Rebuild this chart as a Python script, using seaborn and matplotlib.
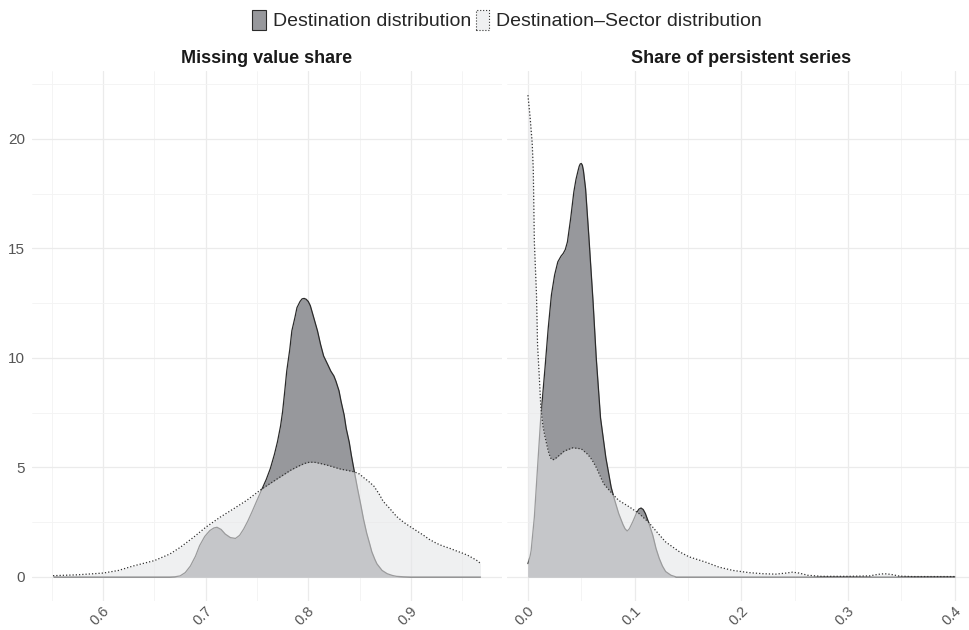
import matplotlib
matplotlib.use('Agg')
import matplotlib.pyplot as plt
import matplotlib.transforms as mtransforms
from matplotlib.patches import Patch
import seaborn as sns

# Density curves
# Left facet: missing value share
miss_x_dest = [0.552, 0.600, 0.650, 0.665, 0.670, 0.675, 0.680, 0.685, 0.690, 0.694, 0.699,
               0.704, 0.708, 0.711, 0.715, 0.719, 0.724, 0.729, 0.733, 0.737, 0.741, 0.745,
               0.750, 0.755, 0.759, 0.763, 0.767, 0.770, 0.773, 0.775, 0.777, 0.779, 0.782,
               0.784, 0.787, 0.789, 0.792, 0.794, 0.796, 0.798, 0.800, 0.802, 0.805, 0.809,
               0.812, 0.815, 0.819, 0.822, 0.825, 0.827, 0.830, 0.832, 0.835, 0.837, 0.840,
               0.842, 0.845, 0.848, 0.851, 0.854, 0.857, 0.860, 0.862, 0.865, 0.867, 0.872,
               0.877, 0.882, 0.886, 0.893, 0.900, 0.968]
miss_y_dest = [0.0, 0.0, 0.0, 0.0, 0.01, 0.05, 0.2, 0.5, 0.95, 1.43, 1.85,
               2.12, 2.24, 2.27, 2.17, 1.96, 1.8, 1.76, 1.9, 2.19, 2.55, 2.96,
               3.5, 4.03, 4.45, 4.95, 5.6, 6.18, 6.9, 7.56, 8.45, 9.4, 10.4,
               11.24, 11.85, 12.3, 12.58, 12.7, 12.72, 12.68, 12.58, 12.39, 11.9, 11.24,
               10.62, 10.09, 9.7, 9.4, 9.18, 8.94, 8.5, 8.02, 7.4, 6.79, 6.15,
               5.57, 4.8, 4.05, 3.35, 2.62, 2.0, 1.5, 1.15, 0.8, 0.6, 0.3,
               0.15, 0.07, 0.03, 0.01, 0.0, 0.0]

miss_x_sect = [0.551, 0.575, 0.600, 0.615, 0.629, 0.650, 0.665, 0.675, 0.688, 0.700, 0.714,
               0.727, 0.740, 0.755, 0.770, 0.783, 0.790, 0.796, 0.801, 0.806, 0.812, 0.819,
               0.826, 0.832, 0.839, 0.845, 0.850, 0.854, 0.859, 0.864, 0.869, 0.873, 0.880,
               0.886, 0.893, 0.900, 0.906, 0.912, 0.918, 0.925, 0.931, 0.938, 0.944, 0.951,
               0.956, 0.961, 0.965, 0.968]
miss_y_sect = [0.06, 0.1, 0.18, 0.3, 0.5, 0.75, 1.05, 1.35, 1.81, 2.27, 2.73,
               3.11, 3.5, 4.03, 4.49, 4.88, 5.05, 5.18, 5.24, 5.24, 5.18, 5.1,
               5.0, 4.92, 4.86, 4.8, 4.7, 4.54, 4.36, 4.15, 3.8, 3.46, 3.1,
               2.77, 2.5, 2.28, 2.1, 1.92, 1.72, 1.54, 1.42, 1.31, 1.2, 1.08,
               0.98, 0.85, 0.74, 0.62]

# Right facet: share of persistent series
pers_x_dest = [0.000, 0.002, 0.003, 0.006, 0.009, 0.012, 0.016, 0.019, 0.022, 0.025, 0.028,
               0.031, 0.033, 0.035, 0.037, 0.040, 0.043, 0.045, 0.047, 0.048, 0.049, 0.050,
               0.051, 0.052, 0.054, 0.057, 0.061, 0.064, 0.068, 0.073, 0.078, 0.081, 0.085,
               0.089, 0.091, 0.093, 0.095, 0.098, 0.102, 0.104, 0.106, 0.108, 0.110, 0.113,
               0.117, 0.120, 0.123, 0.126, 0.129, 0.134, 0.139, 0.200, 0.300, 0.400]
pers_y_dest = [0.61, 0.95, 1.21, 2.73, 5.0, 7.27, 9.55, 11.36, 12.88, 13.79, 14.39,
               14.65, 14.77, 14.95, 15.3, 16.36, 17.58, 18.15, 18.56, 18.75, 18.86, 18.88,
               18.8, 18.55, 17.73, 15.6, 12.58, 10.0, 7.27, 5.45, 4.09, 3.55, 2.9,
               2.4, 2.2, 2.1, 2.2, 2.5, 2.95, 3.1, 3.15, 3.08, 2.9, 2.5,
               1.9, 1.3, 0.85, 0.5, 0.25, 0.08, 0.0, 0.0, 0.0, 0.0]

pers_x_sect = [0.000, 0.002, 0.004, 0.005, 0.006, 0.008, 0.009, 0.011, 0.012, 0.014, 0.016,
               0.019, 0.021, 0.023, 0.025, 0.028, 0.034, 0.042, 0.050, 0.056, 0.060, 0.064,
               0.071, 0.079, 0.085, 0.095, 0.104, 0.113, 0.120, 0.129, 0.142, 0.151, 0.167,
               0.179, 0.192, 0.207, 0.220, 0.232, 0.242, 0.248, 0.254, 0.262, 0.275, 0.300,
               0.320, 0.328, 0.334, 0.340, 0.348, 0.360, 0.400]
pers_y_sect = [22.0, 21.0, 19.8, 18.6, 15.3, 12.9, 10.6, 8.8, 7.8, 6.9, 6.4,
               5.75, 5.45, 5.35, 5.38, 5.5, 5.75, 5.9, 5.85, 5.6, 5.35, 5.0,
               4.25, 3.8, 3.5, 3.2, 2.9, 2.5, 2.1, 1.6, 1.15, 0.92, 0.67,
               0.45, 0.3, 0.2, 0.15, 0.13, 0.18, 0.22, 0.18, 0.08, 0.03, 0.03,
               0.05, 0.12, 0.15, 0.12, 0.04, 0.02, 0.02]

facet_titles = ['Missing value share', 'Share of persistent series']
legend_labels = ['Destination distribution', 'Destination\u2013Sector distribution']
miss_ticks = [0.6, 0.7, 0.8, 0.9]
miss_ticklabels = ['0.6', '0.7', '0.8', '0.9']
pers_ticks = [0.0, 0.1, 0.2, 0.3, 0.4]
pers_ticklabels = ['0.0', '0.1', '0.2', '0.3', '0.4']
y_ticks = [0, 5, 10, 15, 20]

DARK_FILL = '#97989c'
DARK_LINE = '#2b2b2b'
LIGHT_FILL = '#e5e6e8'
DOT_LINE = '#333333'
TEXT_GREY = '#555555'


def draw_panel(ax, xd, yd, xs, ys, xlim, ticks, ticklabels, minor, title):
    ax.fill_between(xd, yd, 0, color=DARK_FILL, lw=0, zorder=2)
    sns.lineplot(x=xd, y=yd, ax=ax, color=DARK_LINE, lw=0.9, sort=False,
                 estimator=None, zorder=3)
    ax.fill_between(xs, ys, 0, color=LIGHT_FILL, alpha=0.6, lw=0, zorder=4)
    sns.lineplot(x=xs, y=ys, ax=ax, color=DOT_LINE, lw=0.9, linestyle=(0, (1, 1.6)),
                 sort=False, estimator=None, zorder=5)

    ax.set_xlim(*xlim)
    ax.set_ylim(-1.1, 23.1)
    ax.set_xticks(ticks)
    ax.set_xticklabels(ticklabels)
    ax.set_xticks(minor, minor=True)
    ax.set_yticks(y_ticks)
    ax.set_yticks([2.5, 7.5, 12.5, 17.5, 22.5], minor=True)
    ax.grid(which='major', color='#ebebeb', lw=0.9)
    ax.grid(which='minor', color='#f3f3f3', lw=0.6)
    ax.set_axisbelow(True)
    for sp in ax.spines.values():
        sp.set_visible(False)
    ax.tick_params(which='both', length=0)
    ax.tick_params(axis='x', pad=5.5, labelsize=10.5, labelcolor=TEXT_GREY)
    ax.tick_params(axis='y', pad=5, labelsize=11, labelcolor=TEXT_GREY)
    shift = mtransforms.ScaledTranslation(3 / 72, 0, ax.figure.dpi_scale_trans)
    for lbl in ax.get_xticklabels():
        lbl.set_rotation(45)
        lbl.set_ha('right')
        lbl.set_va('center')
        lbl.set_rotation_mode('anchor')
        lbl.set_transform(lbl.get_transform() + shift)
    ax.set_xlabel('')
    ax.set_ylabel('')
    ax.set_title(title, fontsize=13, fontweight='bold', pad=6, color='#1a1a1a')


sns.set_theme(style='whitegrid')
plt.rcParams['font.family'] = ['Liberation Sans', 'DejaVu Sans']

fig = plt.figure(figsize=(9.69, 6.30), dpi=100)
ax1 = fig.add_axes([32 / 969, 0.0459, 470 / 969, 0.8413])
ax2 = fig.add_axes([506.6 / 969, 0.0459, 469.6 / 969, 0.8413], sharey=ax1)

draw_panel(ax1, miss_x_dest, miss_y_dest, miss_x_sect, miss_y_sect, (0.5305, 0.989),
           miss_ticks, miss_ticklabels, [0.55, 0.65, 0.75, 0.85, 0.95], facet_titles[0])
draw_panel(ax2, pers_x_dest, pers_y_dest, pers_x_sect, pers_y_sect, (-0.02, 0.42),
           pers_ticks, pers_ticklabels, [0.05, 0.15, 0.25, 0.35], facet_titles[1])
ax2.tick_params(axis='y', labelleft=False)

handles = [Patch(facecolor=DARK_FILL, edgecolor=DARK_LINE, lw=0.8),
           Patch(facecolor='#eff0f1', edgecolor=DOT_LINE, lw=0.8, linestyle=':')]
fig.legend(handles=handles, labels=legend_labels, loc='center',
           bbox_to_anchor=(507 / 969, 1 - 20 / 630), ncol=2, frameon=False,
           fontsize=14, handlelength=0.7, handleheight=1.25, handletextpad=0.35,
           columnspacing=0.25, borderpad=0)

fig.savefig('out.png', dpi=100)
